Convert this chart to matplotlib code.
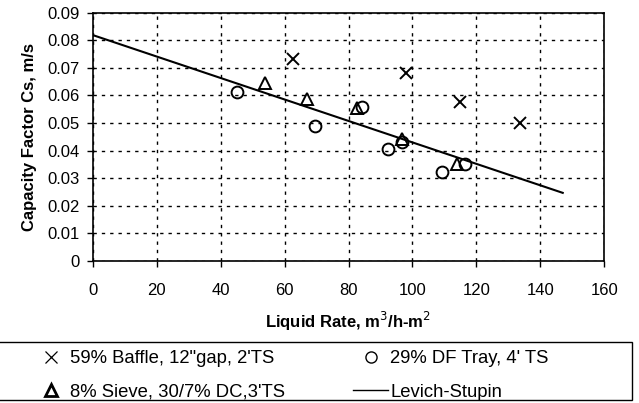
import matplotlib
matplotlib.use("Agg")
import matplotlib.pyplot as plt
from matplotlib.lines import Line2D
from matplotlib.patches import Rectangle

plt.rcParams['font.family'] = ['Liberation Sans', 'DejaVu Sans']

# Data
baffle_x = [62.7, 98.1, 114.9, 133.5]
baffle_y = [0.0733, 0.0682, 0.0577, 0.0499]
sieve_x = [53.9, 67.1, 82.8, 96.7, 113.8]
sieve_y = [0.0646, 0.0586, 0.0553, 0.0444, 0.0351]
df_x = [45.0, 69.6, 84.1, 92.3, 96.6, 109.3, 116.5]
df_y = [0.0611, 0.0489, 0.0559, 0.0405, 0.0430, 0.0321, 0.0353]
levich_x = [0, 147]
levich_y = [0.0819, 0.0247]

xticks = [0, 20, 40, 60, 80, 100, 120, 140, 160]
yticks = [0, 0.01, 0.02, 0.03, 0.04, 0.05, 0.06, 0.07, 0.08, 0.09]
ytick_labels = ['0', '0.01', '0.02', '0.03', '0.04', '0.05', '0.06', '0.07', '0.08', '0.09']

W, H = 639, 403
fig = plt.figure(figsize=(W / 100, H / 100), dpi=100)
ax = fig.add_axes([92.7 / W, 1 - 261 / H, 511.6 / W, 248.3 / H])

ax.plot(levich_x, levich_y, color='black', lw=1.5, zorder=3)
ax.plot(baffle_x, baffle_y, ls='none', marker='x', ms=8.5, mew=1.4, color='black', zorder=4)
ax.plot(sieve_x, sieve_y, ls='none', marker='^', ms=8.5, mew=1.4, mfc='none', mec='black', zorder=4)
ax.plot(df_x, df_y, ls='none', marker='o', ms=8.5, mew=1.4, mfc='none', mec='black', zorder=4)

ax.set_xlim(0, 160)
ax.set_ylim(0, 0.09)
ax.set_xticks(xticks)
ax.set_xticklabels([str(t) for t in xticks])
ax.set_yticks(yticks)
ax.set_yticklabels(ytick_labels)
ax.tick_params(direction='out', length=4.5, width=1, labelsize=12, colors='black')
ax.tick_params(axis='x', pad=11)
ax.tick_params(axis='y', pad=5)
ax.grid(True, color='black', ls=(0, (2.4, 3.6)), lw=1.0)
for s in ax.spines.values():
    s.set_linewidth(1.2)
    s.set_color('black')

ax.set_xlabel('Liquid Rate, m$^3$/h-m$^2$', fontsize=12, fontweight='bold', va='center')
ax.xaxis.set_label_coords(0.5, (261 - 321) / 248.3)
ax.set_ylabel('Capacity Factor Cs, m/s', fontsize=12, fontweight='bold', va='center')
ax.yaxis.set_label_coords((30 - 92.7) / 511.6, 0.5)

# Legend frame
fig.patches.append(Rectangle((-3 / W, 1 - 400 / H), 635 / W, 58 / H,
                             transform=fig.transFigure, fill=False,
                             edgecolor='black', lw=1.0))

handles = [
    Line2D([], [], ls='none', marker='x', ms=9, mew=0.9, color='black'),
    Line2D([], [], ls='none', marker='^', ms=8, mew=2.0, mfc='none', mec='black'),
    Line2D([], [], ls='none', marker='o', ms=8, mew=1.0, mfc='none', mec='black'),
    Line2D([], [], color='black', lw=1.0),
]
labels = ["59% Baffle, 12\"gap, 2'TS", "8% Sieve, 30/7% DC,3'TS",
          "29% DF Tray, 4' TS", "Levich-Stupin"]
fig.legend(handles, labels, ncol=2, loc='upper left',
           bbox_to_anchor=(33 / W, 1 - 350 / H),
           fontsize=13.3, frameon=False, borderaxespad=0, borderpad=0,
           handlelength=1.9, handletextpad=0.1, columnspacing=3.7,
           labelspacing=0.9)

fig.savefig('out.png', dpi=100)
